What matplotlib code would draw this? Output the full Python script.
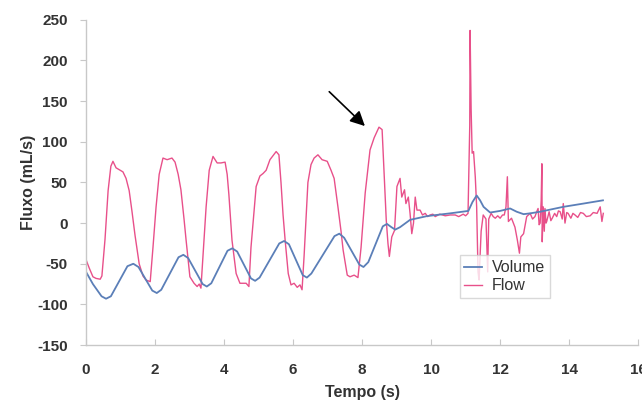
import matplotlib.pyplot as plt

plt.rcParams['font.family'] = ['Liberation Sans', 'DejaVu Sans']
plt.rcParams['axes.unicode_minus'] = False

# Volume trace (t in s, value)
vol_t = [0.00, 0.20, 0.45, 0.58, 0.72, 1.20, 1.37, 1.52, 1.92, 2.05, 2.18,
         2.68, 2.82, 2.96, 3.38, 3.50, 3.63, 4.10, 4.24, 4.38, 4.78, 4.90,
         5.03, 5.60, 5.74, 5.88, 6.28, 6.40, 6.53, 7.20, 7.34, 7.48, 7.92,
         8.04, 8.18, 8.60, 8.72, 8.85, 8.96, 9.10, 9.39, 9.88, 10.55, 11.08,
         11.20, 11.32, 11.42, 11.52, 11.71, 12.00, 12.29, 12.48, 12.68,
         12.87, 13.16, 13.83, 14.41, 14.98]
vol_v = [-60, -75, -90, -93, -90, -53, -50, -54, -83, -86, -82,
         -42, -39, -43, -75, -78, -74, -34, -31, -35, -68, -71,
         -67, -25, -22, -26, -64, -67, -62, -16, -13, -18, -51,
         -54, -48, -4, -1, -5, -8, -5, 4, 8.6, 12, 15,
         26, 34, 28, 20, 13, 15, 18, 14, 11,
         12, 14, 20, 24, 28]

# Flow trace (t in s, value)
flow_t = [0.00, 0.09, 0.20, 0.29, 0.41, 0.46, 0.55, 0.64, 0.72, 0.78, 0.87,
          0.99, 1.07, 1.16, 1.25, 1.33, 1.42, 1.54, 1.65, 1.74, 1.86,
          1.94, 2.03, 2.12, 2.23, 2.35, 2.49, 2.58, 2.67, 2.75, 2.84, 2.90,
          3.01, 3.13, 3.22, 3.28, 3.33,
          3.39, 3.48, 3.57, 3.68, 3.80, 3.91, 4.03, 4.09, 4.14, 4.23, 4.35,
          4.46, 4.64, 4.72,
          4.78, 4.84, 4.93, 5.04, 5.13, 5.22, 5.33, 5.51, 5.59, 5.65, 5.71,
          5.77, 5.86, 5.94, 6.03, 6.12, 6.20, 6.26,
          6.32, 6.38, 6.43, 6.52, 6.61, 6.72, 6.84, 6.99, 7.10, 7.19, 7.30,
          7.39, 7.45, 7.57, 7.65, 7.77, 7.88,
          7.97, 8.09, 8.23, 8.35, 8.49, 8.58, 8.64, 8.70, 8.75, 8.79, 8.86,
          8.94, 9.01, 9.10, 9.15, 9.23, 9.27, 9.34, 9.39, 9.44, 9.49, 9.54,
          9.59, 9.68, 9.75, 9.83, 9.90, 9.97, 10.05, 10.12, 10.25, 10.41,
          10.55, 10.70, 10.80, 10.93, 11.00, 11.07,
          11.12, 11.13, 11.16, 11.19, 11.23, 11.28, 11.32, 11.36, 11.39,
          11.45, 11.51, 11.59, 11.64, 11.67, 11.74, 11.80, 11.86, 11.93,
          12.00, 12.07, 12.12, 12.17, 12.21, 12.24, 12.33, 12.43, 12.50,
          12.56, 12.60, 12.68, 12.77, 12.87, 12.94, 13.01, 13.06, 13.10,
          13.13, 13.16, 13.19, 13.21, 13.22, 13.25, 13.28, 13.30, 13.33,
          13.35, 13.42, 13.47, 13.51, 13.58, 13.64, 13.69, 13.74, 13.80,
          13.83, 13.88, 13.93, 13.97, 14.05, 14.11, 14.17, 14.25, 14.33,
          14.41, 14.50, 14.61, 14.70, 14.81, 14.90, 14.95, 14.99]
flow_v = [-45, -55, -66, -68, -69, -65, -20, 40, 70, 76, 68,
          65, 63, 55, 40, 15, -15, -50, -65, -70, -72,
          -30, 20, 60, 80, 78, 80, 75, 60, 41, 5, -21,
          -66, -74, -78, -75, -80,
          -40, 20, 65, 82, 74, 74, 75, 60, 35, -21, -62,
          -74, -74, -78,
          -30, 0, 45, 58, 61, 65, 78, 88, 84, 50, 10,
          -21, -62, -76, -74, -79, -76, -82,
          -40, 10, 50, 72, 80, 84, 78, 76, 65, 55, 20,
          -10, -33, -64, -66, -64, -67,
          -30, 37, 90, 105, 118, 115, 60, 4, -25, -41, -17,
          -9, 45, 55, 32, 41, 24, 32, 12, -13, 0, 32,
          16, 16, 10, 12, 8, 10, 11, 8, 11, 9,
          10, 10, 8, 11, 9, 12,
          120, 237, 140, 86, 88, 57, 20, -60, -70,
          -10, 10, 5, -60, 5, 12, 8, 6, 9,
          6, 10, 10, 20, 57, 2, 6, -5, -21,
          -37, -17, -13, 8, 12, 5, 8, 14, 18,
          -2, 0, 28, 73, -23, 20, -10, 18, 0,
          2, 14, 3, 6, 12, 8, 15, 14, 5,
          24, 0, 13, 12, 6, 12, 10, 7, 13,
          12, 8, 9, 13, 12, 20, 2, 12]

fig = plt.figure(figsize=(6.42, 4.05), dpi=100)
ax = fig.add_axes([0.134, 0.148, 0.86, 0.803])

ax.plot(flow_t, flow_v, color='#e8508a', lw=1.0, label='Flow')
ax.plot(vol_t, vol_v, color='#5b7fb8', lw=1.3, label='Volume')

ax.set_xlim(0, 16)
ax.set_ylim(-150, 250)
ax.set_xticks(range(0, 17, 2))
ax.set_yticks(range(-150, 251, 50))

txt = '#333333'
for s in ['top', 'right']:
    ax.spines[s].set_visible(False)
for s in ['left', 'bottom']:
    ax.spines[s].set_color('#c8c8c8')
    ax.spines[s].set_linewidth(1.0)

ax.tick_params(axis='y', direction='out', length=4, color='#c8c8c8', pad=9,
               labelsize=11, labelcolor=txt)
ax.tick_params(axis='x', direction='in', length=4, color='#c8c8c8', pad=13,
               labelsize=11, labelcolor=txt)
for lab in ax.get_xticklabels() + ax.get_yticklabels():
    lab.set_fontweight('bold')

ax.set_xlabel('Tempo (s)', fontsize=11.5, fontweight='bold', color=txt, labelpad=6)
ax.set_ylabel('Fluxo (mL/s)', fontsize=11.5, fontweight='bold', color=txt, labelpad=1)

ax.annotate('', xy=(8.14, 117), xytext=(6.99, 164),
            arrowprops=dict(arrowstyle='-|>', color='black', lw=1.2,
                            mutation_scale=22))

h, l = ax.get_legend_handles_labels()
leg = ax.legend([h[1], h[0]], [l[1], l[0]], loc='upper left',
                bbox_to_anchor=(0.662, 0.30), fontsize=11.5, frameon=True,
                fancybox=False, handlelength=1.1, handletextpad=0.6,
                borderpad=0.3, labelspacing=0.2, labelcolor=txt)
leg.get_frame().set_edgecolor('#d0d0d0')
leg.get_frame().set_linewidth(1.0)
leg.set_zorder(5)

fig.savefig('out.png', dpi=100)
